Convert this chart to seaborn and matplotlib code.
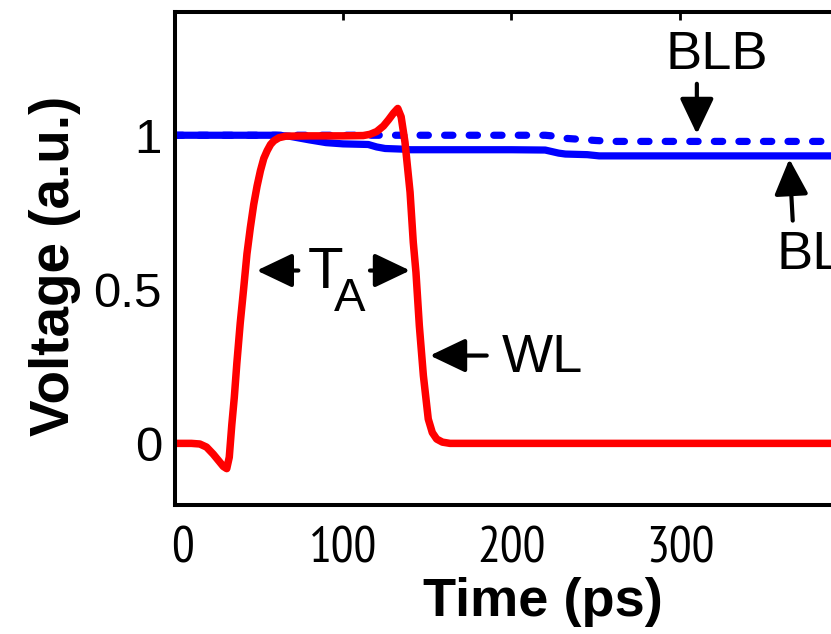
import numpy as np
import pandas as pd
import matplotlib
matplotlib.use("Agg")
import matplotlib.pyplot as plt
import matplotlib.transforms as mtransforms
import seaborn as sns

# ---- data ----
wl_t = [0, 10, 15, 19, 23, 26, 29, 31, 32.5, 34, 35.5, 37, 39, 41, 43, 45, 47, 49, 51, 53, 55, 57, 59, 62, 66,
        80, 100, 112, 116, 120, 124, 127, 130, 132.5, 134.5, 136.8, 139.8, 141.7, 143.3, 145.3, 147.7, 150.6,
        153, 155.6, 159, 163.5, 200, 300, 440]
wl_v = [0, 0, -0.002, -0.012, -0.035, -0.055, -0.075, -0.082, -0.045, 0.06, 0.15, 0.26, 0.39, 0.50, 0.615,
        0.70, 0.775, 0.835, 0.885, 0.925, 0.95, 0.97, 0.982, 0.992, 0.997,
        0.998, 0.998, 0.999, 1.003, 1.012, 1.03, 1.05, 1.072, 1.087, 1.06, 0.977, 0.815, 0.653, 0.555, 0.382,
        0.22, 0.079, 0.035, 0.014, 0.004, 0, 0, 0, 0]

bl_t = [0, 60, 68, 80, 90, 100, 115, 120, 125, 135, 140, 200, 220, 228, 232, 245, 252, 440]
bl_v = [1.0, 1.0, 0.997, 0.985, 0.976, 0.972, 0.970, 0.962, 0.957, 0.955, 0.953, 0.953, 0.952, 0.942,
        0.939, 0.937, 0.933, 0.933]

blb_t = [0, 100, 220, 226, 232, 240, 250, 260, 440]
blb_v = [1.0, 1.0, 1.0, 0.997, 0.99, 0.987, 0.983, 0.98, 0.98]

x_ticks = [0, 100, 200, 300]
x_tick_labels = ["0", "100", "200", "300"]
y_ticks = [0, 0.5, 1]
y_tick_labels = ["0", "0.5", "1"]

sns.set_theme(style="white")
plt.rcParams["font.family"] = ["Liberation Sans", "DejaVu Sans"]
plt.rcParams["text.color"] = "black"
plt.rcParams["axes.labelcolor"] = "black"
plt.rcParams["xtick.color"] = "black"
plt.rcParams["ytick.color"] = "black"

W, H = 831, 634
fig = plt.figure(figsize=(W / 100, H / 100), dpi=100)
ax_w_px = 440 * 1.685
ax = fig.add_axes([174.5 / W, 129 / H, ax_w_px / W, 493 / H])

df_bl = pd.DataFrame({"t": bl_t, "v": bl_v})
df_blb = pd.DataFrame({"t": blb_t, "v": blb_v})
df_wl = pd.DataFrame({"t": wl_t, "v": wl_v})

sns.lineplot(data=df_bl, x="t", y="v", ax=ax, color="#0000ff", lw=5.2, sort=False,
             solid_capstyle="round", solid_joinstyle="round")
sns.lineplot(data=df_blb, x="t", y="v", ax=ax, color="#0000ff", lw=5.2, sort=False,
             linestyle=(0, (1.15, 2.25)), dash_capstyle="round")
sns.lineplot(data=df_wl, x="t", y="v", ax=ax, color="#ff0000", lw=5.4, sort=False,
             solid_capstyle="round", solid_joinstyle="round")

ax.set_xlim(0, 440)
ax.set_ylim(-0.2, 1.4)
ax.set_xticks(x_ticks, x_tick_labels)
ax.set_yticks(y_ticks, y_tick_labels)
ax.tick_params(direction="in", top=True, right=True, length=5.8, width=2, colors="black")
ax.tick_params(axis="x", pad=15.5, labelsize=36.5)
ax.tick_params(axis="y", pad=9, labelsize=35.5)
narrow = ["Liberation Sans Narrow", "Arial Narrow", "PT Sans Narrow", "Archivo Narrow",
          "Roboto Condensed", "Liberation Sans", "DejaVu Sans"]
for lab in ax.get_xticklabels():
    lab.set_fontfamily(narrow)
for s in ax.spines.values():
    s.set_linewidth(2.9)
    s.set_color("black")

ax.set_xlabel("Time (ps)", fontsize=39, fontweight="bold")
ax.set_ylabel("Voltage (a.u.)", fontsize=39.5, fontweight="bold")
ax.xaxis.set_label_coords(0.497, -0.146)
ax.yaxis.set_label_coords(-0.1265, 0.485)

# the "0" label of the x axis sits slightly right of its tick in the reference
lbl0 = ax.xaxis.get_major_ticks()[0].label1
lbl0.set_transform(lbl0.get_transform() + mtransforms.ScaledTranslation(8 / 100, 0, fig.dpi_scale_trans))

arrow = dict(arrowstyle="-|>,head_length=0.42,head_width=0.2", mutation_scale=52,
             color="black", lw=3.0, shrinkA=0, shrinkB=0)
# BLB
ax.annotate("", xy=(310, 1.004), xytext=(310, 1.167), arrowprops=arrow)
ax.text(321.8, 1.214, "BLB", fontsize=39, ha="center", va="baseline")
# BL
ax.annotate("", xy=(364.9, 0.923), xytext=(366.9, 0.723), arrowprops=arrow)
ax.text(357.4, 0.566, "BL", fontsize=39, ha="left", va="baseline")
# T_A
ax.annotate("", xy=(48.8, 0.561), xytext=(73.5, 0.561), arrowprops=arrow)
ax.annotate("", xy=(139.8, 0.561), xytext=(116, 0.561), arrowprops=arrow)
ax.text(79.2, 0.505, "T", fontsize=42, ha="left", va="baseline")
ax.text(94.6, 0.428, "A", fontsize=34, ha="left", va="baseline")
# WL
ax.annotate("", xy=(151.6, 0.285), xytext=(185.3, 0.285), arrowprops=arrow)
ax.text(194.2, 0.233, "WL", fontsize=39, ha="left", va="baseline")

fig.savefig("out.png", dpi=100)
